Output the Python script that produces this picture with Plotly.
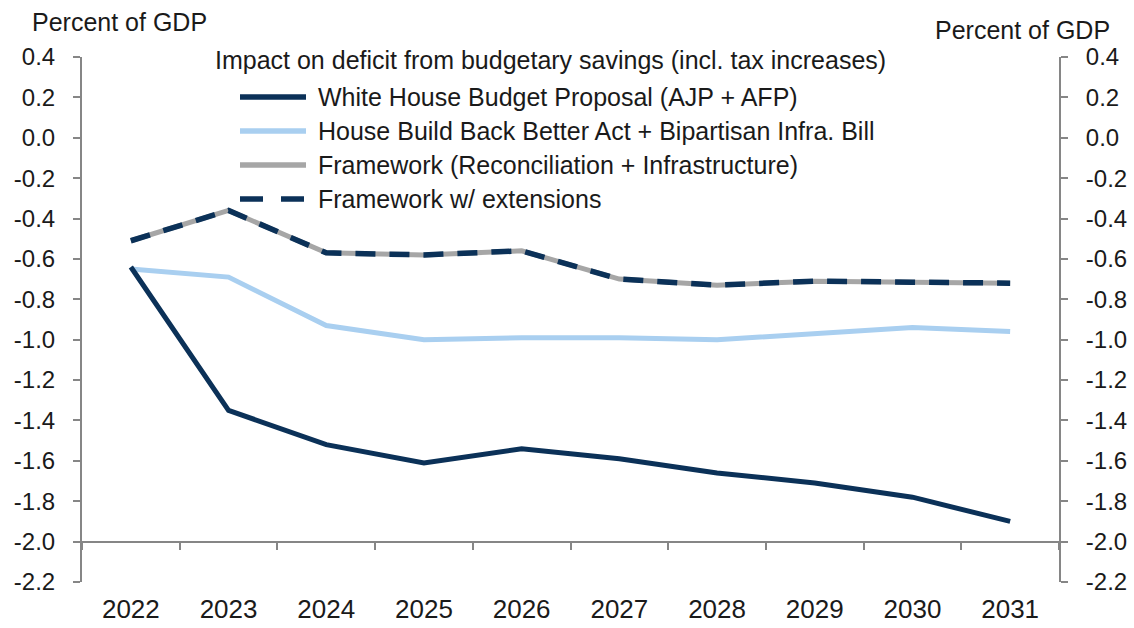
import plotly.graph_objects as go

# Fiscal years on the horizontal axis
years = ["2022", "2023", "2024", "2025", "2026", "2027", "2028", "2029", "2030", "2031"]

# Impact on deficit, percent of GDP
white_house = [-0.64, -1.35, -1.52, -1.61, -1.54, -1.59, -1.66, -1.71, -1.78, -1.90]
house_bbb = [-0.65, -0.69, -0.93, -1.00, -0.99, -0.99, -1.00, -0.97, -0.94, -0.96]
framework = [-0.51, -0.36, -0.57, -0.58, -0.56, -0.70, -0.73, -0.71, -0.715, -0.72]
framework_ext = [-0.51, -0.36, -0.57, -0.58, -0.56, -0.70, -0.73, -0.71, -0.715, -0.72]

series_names = [
    "White House Budget Proposal (AJP + AFP)",
    "House Build Back Better Act + Bipartisan Infra. Bill",
    "Framework (Reconciliation + Infrastructure)",
    "Framework w/ extensions",
]
legend_title = "Impact on deficit from budgetary savings (incl. tax increases)"
axis_title = "Percent of GDP"

y_ticks = ["0.4", "0.2", "0.0", "-0.2", "-0.4", "-0.6", "-0.8", "-1.0", "-1.2",
           "-1.4", "-1.6", "-1.8", "-2.0", "-2.2"]
y_vals = [float(t) for t in y_ticks]
y_min, y_max = min(y_vals), max(y_vals)
x_axis_at = -2.0  # the category axis crosses here

NAVY = "#0b3158"
LIGHT = "#a9cff0"
GREY = "#a6a6a6"
AXIS = "#868686"
TEXT = "#1a1a1a"
FONT = "Liberation Sans, Arial, sans-serif"

W, H = 1134, 628
ML, MR, MT, MB = 82, 75, 57, 46
plot_w = W - ML - MR
plot_h = H - MT - MB


def px(x):
    return (x - ML) / plot_w


def py(y):
    return (H - MB - y) / plot_h


styles = [
    dict(color=NAVY, width=5, dash="solid"),
    dict(color=LIGHT, width=5, dash="solid"),
    dict(color=GREY, width=5, dash="solid"),
    dict(color=NAVY, width=5.5, dash="20px,14px"),
]
values = [white_house, house_bbb, framework, framework_ext]
y_refs = ["y", "y", "y", "y2"]

fig = go.Figure()
# light blue, white house, grey, dashed (draw order)
for i in [1, 0, 2, 3]:
    fig.add_trace(go.Scatter(
        x=years, y=values[i], mode="lines", name=series_names[i],
        line=styles[i], showlegend=False, hoverinfo="x+y+name",
        yaxis=y_refs[i],
    ))

# legend block with longer line swatches
annotations = [
    dict(text=axis_title, x=px(30), y=py(22), xref="paper", yref="paper",
         xanchor="left", yanchor="middle", showarrow=False,
         font=dict(size=25, color=TEXT, family=FONT)),
    dict(text=axis_title, x=px(1112), y=py(30), xref="paper", yref="paper",
         xanchor="right", yanchor="middle", showarrow=False,
         font=dict(size=25, color=TEXT, family=FONT)),
    dict(text=legend_title, x=px(213), y=py(60), xref="paper", yref="paper",
         xanchor="left", yanchor="middle", showarrow=False,
         font=dict(size=25, color=TEXT, family=FONT)),
]
shapes = []
row_y = [97, 131, 165, 199]
for name, st, ry in zip(series_names, styles, row_y):
    annotations.append(dict(
        text=name, x=px(316), y=py(ry), xref="paper", yref="paper",
        xanchor="left", yanchor="middle", showarrow=False,
        font=dict(size=25, color=TEXT, family=FONT)))
    dash = "23px,18px" if st["dash"] != "solid" else "solid"
    shapes.append(dict(
        type="line", xref="paper", yref="paper",
        x0=px(240), x1=px(306), y0=py(ry), y1=py(ry),
        line=dict(color=st["color"], width=5.5, dash=dash)))

y_axis_common = dict(
    range=[y_min, y_max], tickvals=y_vals, ticktext=y_ticks,
    showline=True, linecolor=AXIS, linewidth=2,
    ticks="outside", ticklen=7, tickwidth=2, tickcolor=AXIS,
    showgrid=False, zeroline=False,
    tickfont=dict(size=24, color=TEXT, family=FONT),
    ticklabelstandoff=13, automargin=False,
)

fig.update_layout(
    width=W, height=H,
    margin=dict(l=ML, r=MR, t=MT, b=MB, autoexpand=False),
    paper_bgcolor="white", plot_bgcolor="white",
    font=dict(family=FONT, color=TEXT),
    showlegend=False,
    annotations=annotations,
    shapes=shapes,
    xaxis=dict(
        type="category", categoryarray=years, range=[-0.5, len(years) - 0.5],
        anchor="free", position=(x_axis_at - y_min) / (y_max - y_min),
        showline=True, linecolor=AXIS, linewidth=2,
        ticks="outside", tickson="boundaries", ticklen=7, tickwidth=2,
        tickcolor=AXIS, showgrid=False, zeroline=False,
        tickfont=dict(size=26, color=TEXT, family=FONT),
        ticklabelstandoff=44, automargin=False,
    ),
    yaxis=dict(**y_axis_common),
    yaxis2=dict(**y_axis_common, overlaying="y", side="right", anchor="x"),
)

fig.write_html("out.html")
